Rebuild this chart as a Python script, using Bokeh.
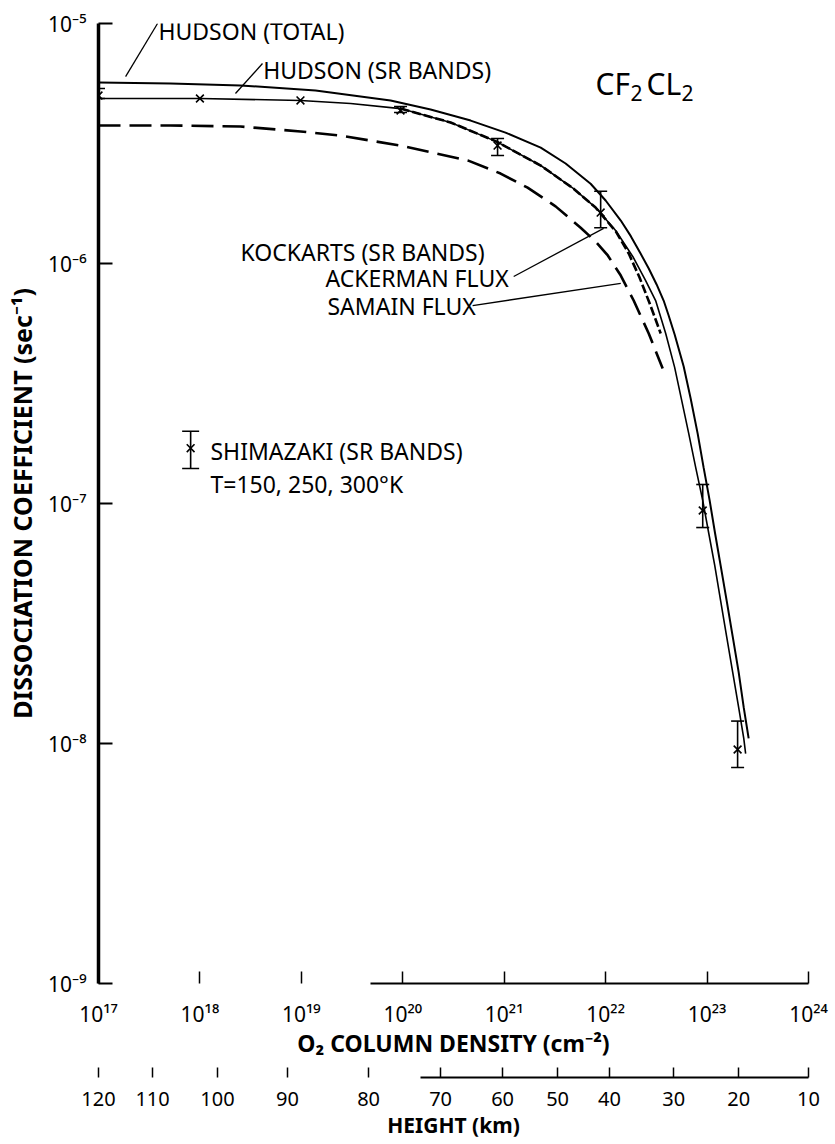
from bokeh.plotting import figure
from bokeh.layouts import column
from bokeh.models import Range1d, FixedTicker
from bokeh.embed import file_html
from bokeh.resources import INLINE
from bokeh.core.properties import value

FONT = "Noto Sans"

# ---------------- data ----------------
# O2 column density (cm^-2) and dissociation coefficient (s^-1)
hudson_total_N = [1.00e17, 5.13e17, 2.51e18, 1.38e19, 7.58e19, 1.88e20, 4.67e20, 1.03e21,
                  2.29e21, 4.03e21, 7.11e21, 1.00e22, 1.41e22, 1.77e22, 2.21e22, 2.66e22,
                  3.18e22, 3.73e22, 4.18e22, 4.79e22, 5.88e22, 6.89e22, 8.07e22, 9.25e22,
                  1.06e23, 1.20e23, 1.36e23, 1.56e23, 1.79e23, 2.05e23, 2.30e23, 2.57e23]
hudson_total_J = [5.68e-6, 5.62e-6, 5.52e-6, 5.26e-6, 4.78e-6, 4.38e-6, 3.94e-6, 3.51e-6,
                  3.04e-6, 2.61e-6, 2.15e-6, 1.83e-6, 1.51e-6, 1.30e-6, 1.10e-6, 9.53e-7,
                  8.18e-7, 7.01e-7, 6.07e-7, 5.06e-7, 3.72e-7, 2.74e-7, 1.96e-7, 1.41e-7,
                  1.03e-7, 7.50e-8, 5.52e-8, 3.94e-8, 2.79e-8, 1.98e-8, 1.41e-8, 1.05e-8]

hudson_sr_N = [1.00e17, 1.00e18, 9.83e18, 3.06e19, 9.51e19, 2.96e20, 8.41e20, 2.29e21,
               4.83e21, 7.96e21, 1.26e22, 1.85e22, 2.48e22, 3.11e22, 3.91e22, 4.79e22,
               5.62e22, 6.59e22, 7.73e22, 9.06e22, 1.04e23, 1.19e23, 1.36e23, 1.56e23,
               1.79e23, 2.05e23, 2.30e23, 2.40e23]
hudson_sr_J = [4.87e-6, 4.87e-6, 4.78e-6, 4.64e-6, 4.42e-6, 3.87e-6, 3.22e-6, 2.56e-6,
               2.05e-6, 1.71e-6, 1.37e-6, 1.07e-6, 8.49e-7, 7.01e-7, 5.11e-7, 3.69e-7,
               2.69e-7, 1.96e-7, 1.41e-7, 1.03e-7, 7.50e-8, 5.52e-8, 3.94e-8, 2.79e-8,
               1.98e-8, 1.41e-8, 1.05e-8, 9.08e-9]

kockarts_ackerman_N = [9.51e19, 2.96e20, 8.41e20, 2.29e21, 4.83e21, 7.96e21, 1.26e22,
                       1.69e22, 2.16e22, 2.72e22, 3.49e22]
kockarts_ackerman_J = [4.42e-6, 3.87e-6, 3.22e-6, 2.56e-6, 2.05e-6, 1.71e-6, 1.36e-6,
                       1.10e-6, 8.74e-7, 6.81e-7, 5.11e-7]

kockarts_samain_N = [1.00e17, 5.13e17, 2.51e18, 9.83e18, 2.44e19, 9.51e19, 4.36e20, 9.21e20,
                     1.70e21, 3.21e21, 5.67e21, 7.96e21, 1.05e22, 1.41e22, 1.89e22, 2.66e22,
                     3.65e22]
kockarts_samain_J = [3.76e-6, 3.76e-6, 3.72e-6, 3.55e-6, 3.41e-6, 3.10e-6, 2.69e-6, 2.37e-6,
                     2.07e-6, 1.73e-6, 1.41e-6, 1.235e-6, 1.08e-6, 8.91e-7, 7.01e-7, 5.11e-7,
                     3.65e-7]

shimazaki_N = [1.0e17, 1.0e18, 9.8e18, 9.5e19, 8.6e20, 8.93e21, 9.06e22, 2.0e23]
shimazaki_J = [5.01e-6, 4.87e-6, 4.78e-6, 4.34e-6, 3.10e-6, 1.63e-6, 9.35e-8, 9.44e-9]
shimazaki_hi = [5.36e-6, 4.87e-6, 4.78e-6, 4.51e-6, 3.32e-6, 2.00e-6, 1.20e-7, 1.24e-8]
shimazaki_lo = [4.87e-6, 4.87e-6, 4.78e-6, 4.26e-6, 2.82e-6, 1.41e-6, 7.94e-8, 7.94e-9]

# axes
density_ticks = [1e17, 1e18, 1e19, 1e20, 1e21, 1e22, 1e23, 1e24]
density_labels = ["10¹⁷", "10¹⁸", "10¹⁹", "10²⁰", "10²¹", "10²²", "10²³", "10²⁴"]
coeff_ticks = [1e-9, 1e-8, 1e-7, 1e-6, 1e-5]
coeff_labels = ["10⁻⁹", "10⁻⁸", "10⁻⁷", "10⁻⁶", "10⁻⁵"]
height_km = [120, 110, 100, 90, 80, 70, 60, 50, 40, 30, 20, 10]
height_density = [1.0e17, 3.41e17, 1.49e18, 7.31e18, 4.60e19, 2.36e20, 9.64e20, 3.36e21,
                  1.09e22, 4.69e22, 2.05e23, 1.0e24]

# ---------------- main figure ----------------
x_range = Range1d(1e17, 1e24)
p = figure(width=835, height=1067, x_axis_type="log", y_axis_type="log",
           x_range=x_range, y_range=Range1d(1e-9, 1e-5),
           output_backend="svg", toolbar_location=None,
           min_border_left=98, min_border_right=27, min_border_top=23, min_border_bottom=84)
p.outline_line_color = None
p.grid.visible = False
p.background_fill_color = "white"
p.border_fill_color = "white"

xa = p.xaxis[0]
xa.ticker = FixedTicker(ticks=density_ticks)
xa.major_label_overrides = dict(zip(density_ticks, density_labels))
xa.major_tick_in = 12
xa.major_tick_out = 0
xa.minor_tick_in = 0
xa.minor_tick_out = 0
xa.major_tick_line_width = 1.5
xa.axis_line_width = 2
xa.axis_line_dash = "0 272 438 0"
xa.major_label_standoff = 16
xa.major_label_text_font = FONT
xa.major_label_text_font_size = "21px"
xa.major_label_text_color = "black"
xa.axis_label = "O₂ COLUMN DENSITY (cm⁻²)"
xa.axis_label_text_font = FONT
xa.axis_label_text_font_style = "bold"
xa.axis_label_text_font_size = "23px"
xa.axis_label_text_color = "black"
xa.axis_label_standoff = -4

ya = p.yaxis[0]
ya.ticker = FixedTicker(ticks=coeff_ticks)
ya.major_label_overrides = dict(zip(coeff_ticks, coeff_labels))
ya.major_tick_in = 14
ya.major_tick_out = 0
ya.minor_tick_in = 0
ya.minor_tick_out = 0
ya.major_tick_line_width = 2
ya.axis_line_width = 3.5
ya.major_label_standoff = 12
ya.major_label_text_font = FONT
ya.major_label_text_font_size = "21px"
ya.major_label_text_color = "black"
ya.axis_label = "DISSOCIATION COEFFICIENT (sec⁻¹)"
ya.axis_label_text_font = FONT
ya.axis_label_text_font_style = "bold"
ya.axis_label_text_font_size = "25px"
ya.axis_label_text_color = "black"
ya.axis_label_standoff = 6

# curves
p.line(hudson_total_N, hudson_total_J, line_color="black", line_width=2)
p.line(hudson_sr_N, hudson_sr_J, line_color="black", line_width=1.6)
p.line(kockarts_ackerman_N, kockarts_ackerman_J, line_color="black", line_width=2.6,
       line_dash="9 3")
p.line(kockarts_samain_N, kockarts_samain_J, line_color="black", line_width=2.6,
       line_dash="22 9")

# Shimazaki points with error bars
p.scatter(shimazaki_N, shimazaki_J, marker="x", size=11, line_width=1.6, line_color="black")
err_idx = [i for i in range(len(shimazaki_N)) if shimazaki_hi[i] > shimazaki_lo[i]]
err_x = [shimazaki_N[i] for i in err_idx]
err_hi = [shimazaki_hi[i] for i in err_idx]
err_lo = [shimazaki_lo[i] for i in err_idx]
p.segment(x0=err_x, y0=err_lo, x1=err_x, y1=err_hi, line_color="black", line_width=1.6)
p.scatter(err_x, err_hi, marker="dash", size=13, line_width=1.6, line_color="black")
p.scatter(err_x, err_lo, marker="dash", size=13, line_width=1.6, line_color="black")

# legend symbol for Shimazaki
leg_x, leg_y, leg_hi, leg_lo = 8.1e17, 1.70e-7, 2.0e-7, 1.40e-7
p.segment(x0=[leg_x], y0=[leg_lo], x1=[leg_x], y1=[leg_hi], line_color="black", line_width=1.6)
p.scatter([leg_x], [leg_y], marker="x", size=11, line_width=1.6, line_color="black")
p.scatter([leg_x, leg_x], [leg_hi, leg_lo], marker="dash", size=17, line_width=1.6,
          line_color="black")

# labels
lab_text = ["HUDSON (TOTAL)", "HUDSON (SR BANDS)", "KOCKARTS (SR BANDS)", "ACKERMAN FLUX",
            "SAMAIN FLUX", "SHIMAZAKI (SR BANDS)", "T=150, 250, 300°K"]
lab_x = [3.9e17, 4.2e18, 2.51e18, 1.73e19, 1.81e19, 1.27e18, 1.27e18]
lab_y = [9.35e-6, 6.43e-6, 1.12e-6, 8.66e-7, 6.68e-7, 1.65e-7, 1.20e-7]
p.text(x=lab_x, y=lab_y, text=lab_text, text_font=value(FONT), text_font_size="23px",
       text_baseline="middle", text_align="left", text_color="black")

# leader lines
ld_x0 = [1.85e17, 2.24e18, 1.24e21, 4.88e20]
ld_y0 = [6.01e-6, 5.11e-6, 8.83e-7, 6.68e-7]
ld_x1 = [3.82e17, 4.14e18, 9.55e21, 1.41e22]
ld_y1 = [1.0e-5, 6.81e-6, 1.40e-6, 8.26e-7]
p.segment(x0=ld_x0, y0=ld_y0, x1=ld_x1, y1=ld_y1, line_color="black", line_width=1.3)

# CF2CL2
cx, cy = 7.94e21, 5.65e-6
p.text(x=[cx, cx], y=[cy, cy], text=["CF", "CL"], x_offset=[0, 51],
       text_font=value(FONT), text_font_size="30px", text_baseline="middle",
       text_align="left", text_color="black")
p.text(x=[cx, cx], y=[cy, cy], text=["2", "2"], x_offset=[35, 86], y_offset=10,
       text_font=value(FONT), text_font_size="21px", text_baseline="middle",
       text_align="left", text_color="black")

# ---------------- height axis strip ----------------
p2 = figure(width=835, height=77, x_axis_type="log", x_range=x_range, y_range=Range1d(0, 1),
            output_backend="svg", toolbar_location=None, y_axis_location=None,
            min_border_left=98, min_border_right=27, min_border_top=0, min_border_bottom=67)
p2.outline_line_color = None
p2.grid.visible = False
ha = p2.xaxis[0]
ha.ticker = FixedTicker(ticks=height_density)
ha.major_label_overrides = {d: str(h) for d, h in zip(height_density, height_km)}
ha.major_tick_in = 10
ha.major_tick_out = 0
ha.minor_tick_in = 0
ha.minor_tick_out = 0
ha.major_tick_line_width = 1.5
ha.axis_line_width = 2
ha.axis_line_dash = "0 322 388 0"
ha.major_label_standoff = 14
ha.major_label_text_font = FONT
ha.major_label_text_font_size = "20px"
ha.major_label_text_color = "black"
ha.axis_label = "HEIGHT (km)"
ha.axis_label_text_font = FONT
ha.axis_label_text_font_style = "bold"
ha.axis_label_text_font_size = "21px"
ha.axis_label_text_color = "black"
ha.axis_label_standoff = 2

layout = column(p, p2, spacing=0)
open("out.html", "w").write(file_html(layout, INLINE))
